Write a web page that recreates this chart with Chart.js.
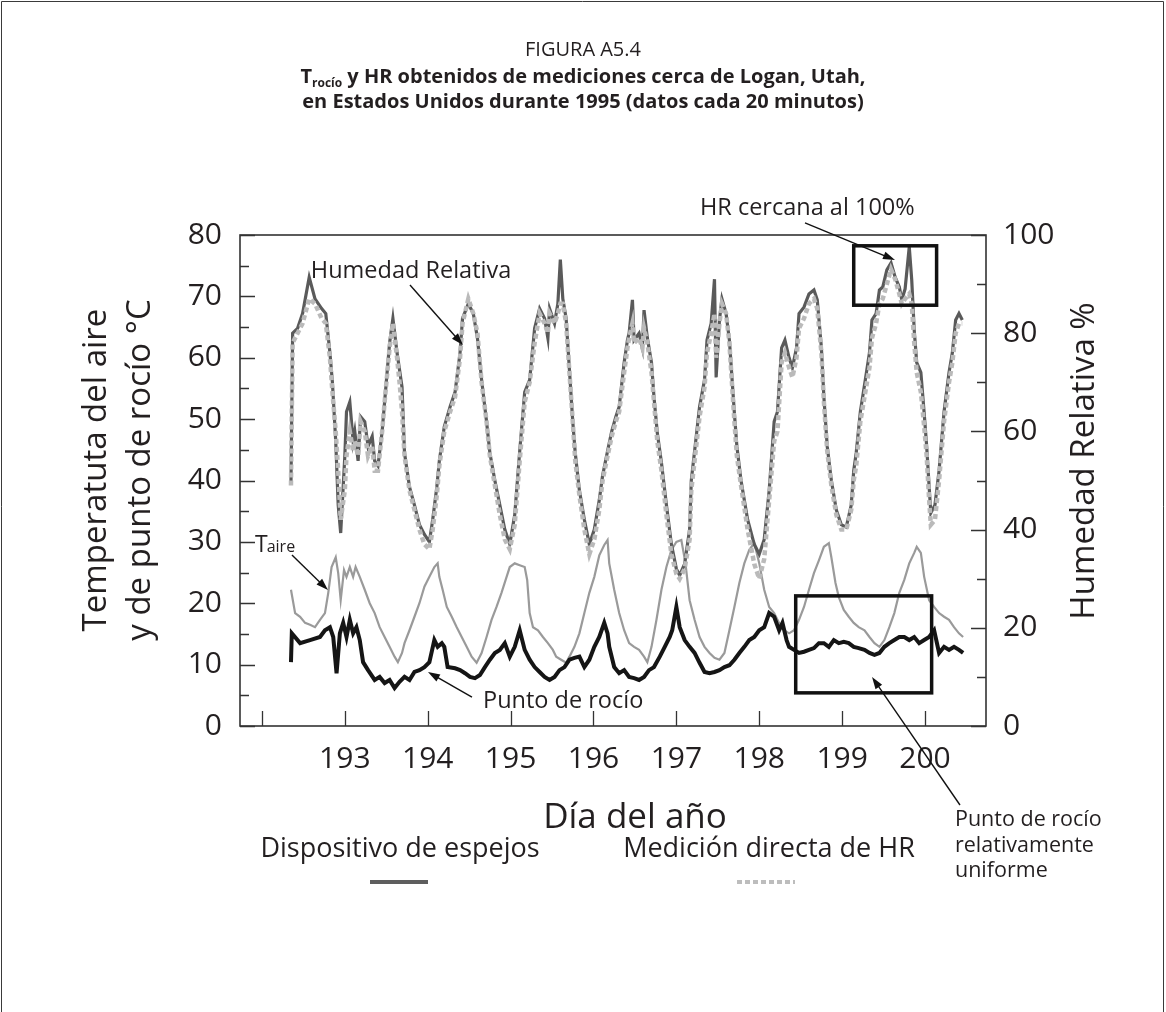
<!DOCTYPE html>
<html>
<head>
<meta charset="utf-8">
<script src="https://cdn.jsdelivr.net/npm/chart.js@4.4.0/dist/chart.umd.min.js"></script>
<style>
html,body{margin:0;padding:0;background:#fff;}
#wrap{position:relative;width:1166px;height:1012px;}
canvas{display:block;}
</style>
</head>
<body>
<div id="wrap"><canvas id="c" width="1166" height="1012"></canvas></div>
<script>
// ---------- DATA ----------
const xTickValues = [192, 193, 194, 195, 196, 197, 198, 199, 200];
const xTickLabels = ['', '193', '194', '195', '196', '197', '198', '199', '200'];
const leftTickValues = [0, 10, 20, 30, 40, 50, 60, 70, 80];
const rightTickValues = [0, 20, 40, 60, 80, 100];

// Relative humidity (%), right axis
const hrDays = [
  192.35,192.37,192.43,192.49,192.57,192.64,192.72,192.77,192.82,192.85,
  192.89,192.92,192.95,193.00,193.02,193.06,193.10,193.12,193.16,193.19,
  193.24,193.28,193.33,193.36,193.40,193.45,193.48,193.54,193.58,193.63,
  193.66,193.69,193.72,193.78,193.84,193.90,193.96,194.02,194.06,194.11,
  194.14,194.20,194.27,194.33,194.39,194.42,194.49,194.55,194.60,194.65,
  194.71,194.75,194.81,194.87,194.93,194.99,195.05,195.11,195.17,195.23,
  195.29,195.35,195.41,195.45,195.47,195.53,195.57,195.60,195.63,195.67,
  195.71,195.75,195.78,195.83,195.89,195.95,196.01,196.07,196.11,196.17,
  196.22,196.27,196.31,196.37,196.41,196.43,196.47,196.49,196.55,196.59,
  196.61,196.65,196.70,196.73,196.77,196.82,196.88,196.94,197.00,197.04,
  197.10,197.16,197.18,197.24,197.28,197.34,197.37,197.42,197.46,197.48,
  197.52,197.55,197.60,197.64,197.70,197.73,197.78,197.86,197.94,198.00,
  198.06,198.12,198.18,198.22,198.27,198.31,198.36,198.40,198.45,198.48,
  198.54,198.60,198.66,198.70,198.75,198.78,198.82,198.87,198.93,198.99,
  199.05,199.11,199.14,199.17,199.22,199.28,199.33,199.36,199.41,199.45,
  199.49,199.54,199.59,199.64,199.69,199.72,199.76,199.81,199.84,199.87,
  199.90,199.95,199.99,200.02,200.05,200.07,200.12,200.17,200.23,200.29,
  200.33,200.37,200.41,200.45
];
const hrMirror = [
  49.5,80,81,84,91.4,87,85,84,76,70,
  58,45,39.3,55,64,66,58,60,54,63,
  62,57,59,54,53,60,66,78,83,76,
  72.5,69,55.6,48.7,45,41,39,37.5,42,48.7,
  54,61,65,68,76,83,86,84,79,70.5,
  62,55.6,50,45,40,37,43,56,68,70.5,
  81,85,83,79,85,82,86,95,87,83,
  72.5,62,55.6,48,42,37,40,46,51,56,
  60,63,65,74,78.6,80,86.8,78.6,80,77,
  84.7,79,74,67,59.7,53.6,45,37,32,30.7,
  33,40,50,59,65,70.5,78.6,82,91,71,
  82.7,87,84,78.6,63.7,57,50,42,37,35,
  38,48,62,64,77,78.6,75,73,77,84,
  85.3,88,88.8,86.8,77,67,57,50,44,41,
  40.5,45,52,55.6,64,70.5,76,82.7,84,88.8,
  89.4,92.9,94.3,91.4,89.4,86.8,89,97.6,90.8,80.6,
  74,72,63.7,57,48.7,43.4,45,52,64,72,
  76,82.7,84,82.7
];
const hrDirect = [
  49,78,80,82,87,86,83,82,75,68,
  60,52,42,48,55,60,56,58,55,62,
  60,55,57,52,52,60,66,77,82,75,
  70,64,55,48,44,40,37,36,40,47,
  53,60,64,67,75,82,87,84,80,70,
  62,55,49,43,38,36,41,54,66,70,
  78,84,82,80,84,82,84,86,86,82,
  72,62,54,47,40,35,38,44,50,55,
  59,62,64,72,77,79,82,78,79,77,
  81,78,72,66,58,52,43,35,31,30,
  32,38,48,57,63,69,76,80,84,75,
  82,86,84,78,62,55,49,40,33,30,
  34,46,58,60,74,76,73,71,75,81,
  83,86,87,85,76,66,56,49,43,40,
  40,44,50,53,62,68,73,79,82,86,
  87,90,93,91,88,86,87,88,86,78,
  72,68,61,55,46,41,42,50,62,70,
  74,80,82,82
];

// Dew point (°C), left axis
const dewDays = [
  192.35,192.36,192.46,192.58,192.70,192.76,192.82,192.86,192.90,192.94,
  192.98,193.02,193.06,193.10,193.14,193.18,193.22,193.28,193.36,193.42,
  193.48,193.54,193.60,193.66,193.72,193.78,193.84,193.90,193.96,194.02,
  194.08,194.12,194.17,194.20,194.24,194.33,194.39,194.45,194.51,194.57,
  194.63,194.69,194.75,194.81,194.87,194.93,194.99,195.05,195.11,195.17,
  195.23,195.29,195.35,195.41,195.47,195.53,195.59,195.65,195.71,195.77,
  195.83,195.89,195.95,196.01,196.07,196.13,196.17,196.19,196.25,196.31,
  196.37,196.43,196.49,196.55,196.61,196.67,196.73,196.80,196.86,196.92,
  196.95,197.00,197.04,197.10,197.16,197.22,197.28,197.34,197.40,197.46,
  197.52,197.58,197.64,197.70,197.76,197.82,197.88,197.94,198.00,198.06,
  198.12,198.18,198.24,198.28,198.33,198.36,198.42,198.48,198.54,198.60,
  198.66,198.72,198.78,198.84,198.90,198.96,199.02,199.08,199.14,199.20,
  199.27,199.33,199.39,199.45,199.51,199.57,199.63,199.69,199.75,199.81,
  199.87,199.93,199.99,200.05,200.11,200.17,200.23,200.29,200.35,200.41,
  200.46
];
const dewPoint = [
  10.4,15.1,13.5,14.0,14.5,15.6,16.1,14.5,8.6,15.1,
  16.8,14.5,17.3,15.1,16.1,14.0,10.4,9.1,7.5,8.0,
  7.0,7.5,6.2,7.2,8.0,7.5,8.8,9.1,9.6,10.4,
  14.0,12.9,13.5,12.9,9.6,9.4,9.1,8.6,8.0,7.8,
  8.3,9.6,10.8,11.9,12.4,13.5,11.3,12.9,15.6,12.4,
  10.8,9.6,8.8,8.0,7.5,8.0,9.1,9.6,10.8,11.1,
  11.3,9.6,10.8,12.9,14.5,16.8,15.1,12.9,9.6,8.6,
  9.1,8.0,7.8,7.5,8.0,9.1,9.6,11.3,12.9,14.5,
  15.6,19.4,16.1,14.0,12.9,11.9,10.3,8.8,8.6,8.8,
  9.1,9.6,9.9,10.8,11.9,12.9,14.0,14.5,15.6,16.1,
  18.4,17.8,15.6,16.8,14.0,12.9,12.4,11.9,12.1,12.4,
  12.7,13.5,13.5,12.9,14.0,13.5,13.7,13.5,12.9,12.7,
  12.4,11.9,11.6,11.9,12.9,13.5,14.0,14.5,14.5,14.0,
  14.5,13.5,14.0,14.5,15.6,11.9,12.9,12.4,12.9,12.4,
  11.9
];

// Air temperature (°C), left axis
const tairDays = [
  192.35,192.40,192.46,192.52,192.58,192.64,192.70,192.76,192.80,192.84,
  192.89,192.92,192.95,192.99,193.02,193.06,193.10,193.13,193.18,193.24,
  193.30,193.36,193.42,193.48,193.54,193.60,193.64,193.69,193.72,193.78,
  193.84,193.90,193.96,194.02,194.08,194.12,194.14,194.18,194.23,194.29,
  194.35,194.41,194.47,194.53,194.59,194.65,194.71,194.77,194.83,194.89,
  194.94,194.99,195.05,195.11,195.17,195.20,195.23,195.27,195.33,195.39,
  195.45,195.51,195.55,195.61,195.67,195.71,195.77,195.83,195.89,195.95,
  196.01,196.07,196.13,196.17,196.19,196.25,196.31,196.37,196.43,196.49,
  196.55,196.61,196.65,196.70,196.76,196.82,196.88,196.94,197.00,197.06,
  197.11,197.16,197.22,197.28,197.34,197.40,197.46,197.52,197.58,197.64,
  197.70,197.76,197.82,197.88,197.94,198.00,198.06,198.12,198.18,198.24,
  198.30,198.36,198.42,198.48,198.54,198.60,198.66,198.72,198.78,198.84,
  198.87,198.92,198.96,199.02,199.08,199.14,199.20,199.27,199.33,199.39,
  199.45,199.51,199.57,199.63,199.69,199.75,199.81,199.87,199.90,199.95,
  199.99,200.05,200.11,200.17,200.23,200.29,200.35,200.41,200.46
];
const tair = [
  22.2,18.4,17.8,16.8,16.5,16.1,17.3,18.4,21.7,25.9,
  27.5,24.9,20.5,25.4,24.3,25.9,24.3,25.9,24.3,22.2,
  20.0,18.4,16.1,14.5,12.9,11.3,10.4,11.9,13.5,15.6,
  17.8,20.0,22.7,24.3,25.9,26.5,24.3,22.2,19.4,17.8,
  16.1,14.5,12.9,11.3,10.3,11.9,14.5,17.3,19.4,21.7,
  23.8,25.9,26.5,26.2,25.9,23.8,18.4,16.1,15.6,14.5,
  13.5,12.4,11.3,10.8,10.3,11.3,12.9,15.1,18.4,21.7,
  24.3,27.8,29.5,30.3,26.5,22.2,18.4,15.6,13.5,12.9,
  12.4,11.3,10.4,12.9,17.3,22.2,25.9,28.7,30.0,30.3,
  26.5,20.5,17.3,14.5,12.9,11.9,11.1,10.8,11.9,15.6,
  19.4,23.3,26.5,28.7,29.8,26.5,22.2,19.4,18.4,16.8,
  15.6,15.1,15.6,17.3,19.4,22.2,24.9,27.0,29.2,29.8,
  27.5,23.3,21.0,18.9,17.8,16.8,16.1,15.6,14.5,13.5,
  12.9,14.0,16.1,18.4,21.7,23.8,26.5,28.2,29.2,28.2,
  24.3,20.5,19.4,18.4,17.8,17.3,16.1,15.1,14.5
];

// ---------- STYLE ----------
const FONT = "'Open Sans', 'Noto Sans', 'DejaVu Sans', sans-serif";
const INK = '#231f20';
const AXIS = '#333333';

function pts(xs, ys) { return xs.map((d, i) => ({ x: d, y: ys[i] })); }

function arrow(ctx, x1, y1, x2, y2) {
  const a = Math.atan2(y2 - y1, x2 - x1);
  const L = 12, W = 4;
  ctx.beginPath();
  ctx.moveTo(x1, y1);
  ctx.lineTo(x2 - Math.cos(a) * L * 0.7, y2 - Math.sin(a) * L * 0.7);
  ctx.stroke();
  ctx.beginPath();
  ctx.moveTo(x2, y2);
  ctx.lineTo(x2 - L * Math.cos(a) + W * Math.sin(a), y2 - L * Math.sin(a) - W * Math.cos(a));
  ctx.lineTo(x2 - L * Math.cos(a) - W * Math.sin(a), y2 - L * Math.sin(a) + W * Math.cos(a));
  ctx.closePath();
  ctx.fill();
}

const decor = {
  id: 'decor',
  beforeDraw(chart) {
    const ctx = chart.ctx;
    ctx.save();
    ctx.fillStyle = '#fff';
    ctx.fillRect(0, 0, chart.width, chart.height);
    ctx.strokeStyle = '#3a3a3a';
    ctx.lineWidth = 1;
    ctx.beginPath();
    ctx.moveTo(1.5, chart.height); ctx.lineTo(1.5, 1.5); ctx.lineTo(1163.5, 1.5); ctx.lineTo(1163.5, chart.height);
    ctx.stroke();
    ctx.restore();
  },
  afterDraw(chart) {
    const ctx = chart.ctx;
    const ca = chart.chartArea;
    const xs = chart.scales.x, yl = chart.scales.y, yr = chart.scales.y2;
    const P = (d, t) => [xs.getPixelForValue(d), yl.getPixelForValue(t)];
    ctx.save();

    // plot frame
    ctx.strokeStyle = AXIS;
    ctx.lineWidth = 1.6;
    ctx.strokeRect(ca.left, ca.top, ca.right - ca.left, ca.bottom - ca.top);

    // inward ticks
    ctx.lineWidth = 1.3;
    ctx.beginPath();
    for (let v = 0; v <= 80; v += 5) {
      const y = Math.round(yl.getPixelForValue(v)) + 0.5;
      const len = v % 10 === 0 ? 15 : 9;
      ctx.moveTo(ca.left, y); ctx.lineTo(ca.left + len, y);
    }
    for (let v = 0; v <= 100; v += 10) {
      const y = Math.round(yr.getPixelForValue(v)) + 0.5;
      const len = v % 20 === 0 ? 15 : 9;
      ctx.moveTo(ca.right, y); ctx.lineTo(ca.right - len, y);
    }
    xTickValues.forEach(v => {
      const x = Math.round(xs.getPixelForValue(v)) + 0.5;
      ctx.moveTo(x, ca.bottom); ctx.lineTo(x, ca.bottom - 15);
    });
    ctx.stroke();

    ctx.fillStyle = INK;
    ctx.textBaseline = 'alphabetic';

    // title
    ctx.textAlign = 'center';
    ctx.font = '20px ' + FONT;
    ctx.fillText('FIGURA A5.4', 583, 56);
    const t1 = 'T', t2 = 'rocío', t3 = ' y HR obtenidos de mediciones cerca de Logan, Utah,';
    ctx.font = 'bold 20px ' + FONT; const w1 = ctx.measureText(t1).width, w3 = ctx.measureText(t3).width;
    ctx.font = 'bold 12px ' + FONT; const w2 = ctx.measureText(t2).width;
    let sx = 583 - (w1 + w2 + w3) / 2;
    ctx.textAlign = 'left';
    ctx.font = 'bold 20px ' + FONT; ctx.fillText(t1, sx, 83);
    ctx.font = 'bold 12px ' + FONT; ctx.fillText(t2, sx + w1, 87);
    ctx.font = 'bold 20px ' + FONT; ctx.fillText(t3, sx + w1 + w2, 83);
    ctx.textAlign = 'center';
    ctx.fillText('en Estados Unidos durante 1995 (datos cada 20 minutos)', 583, 108);

    // axis titles
    ctx.font = '33px ' + FONT;
    ctx.save(); ctx.translate(106, 470); ctx.rotate(-Math.PI / 2);
    ctx.fillText('Temperatuta del aire', 0, 0); ctx.restore();
    ctx.save(); ctx.translate(150, 470); ctx.rotate(-Math.PI / 2);
    ctx.fillText('y de punto de rocío °C', 0, 0); ctx.restore();
    ctx.save(); ctx.translate(1094, 461); ctx.rotate(-Math.PI / 2);
    ctx.fillText('Humedad Relativa %', 0, 0); ctx.restore();
    ctx.font = '35px ' + FONT;
    ctx.fillText('Día del año', 635, 828);

    // annotation boxes
    ctx.strokeStyle = '#111';
    ctx.lineWidth = 3.5;
    const b1a = [xs.getPixelForValue(199.14), yr.getPixelForValue(97.8)];
    const b1b = [xs.getPixelForValue(200.14), yr.getPixelForValue(85.7)];
    ctx.strokeRect(b1a[0], b1a[1], b1b[0] - b1a[0], b1b[1] - b1a[1]);
    const b2a = P(198.44, 21.2), b2b = P(200.08, 5.4);
    ctx.strokeRect(b2a[0], b2a[1], b2b[0] - b2a[0], b2b[1] - b2a[1]);

    // arrows
    ctx.strokeStyle = '#111'; ctx.fillStyle = '#111'; ctx.lineWidth = 1.4;
    let a, b;
    a = P(193.786, 71.85); b = P(194.425, 62.08); arrow(ctx, a[0], a[1], b[0], b[1]);
    a = P(198.552, 81.96); b = P(199.638, 75.93); arrow(ctx, a[0], a[1], b[0], b[1]);
    a = P(192.362, 27.86); b = P(192.796, 22.16); arrow(ctx, a[0], a[1], b[0], b[1]);
    a = P(194.534, 4.72);  b = P(194.003, 8.80);  arrow(ctx, a[0], a[1], b[0], b[1]);
    a = P(200.422, -12.87); b = P(199.361, 7.98); arrow(ctx, a[0], a[1], b[0], b[1]);

    // annotation texts
    ctx.fillStyle = INK;
    ctx.textAlign = 'left';
    ctx.font = '23.5px ' + FONT;
    let p = P(192.59, 73.0); ctx.fillText('Humedad Relativa', p[0], p[1]);
    p = P(197.285, 83.26); ctx.fillText('HR cercana al 100%', p[0], p[1]);
    p = P(194.667, 2.93); ctx.fillText('Punto de rocío', p[0], p[1]);
    p = P(191.916, 28.35);
    ctx.font = '23px ' + FONT; ctx.fillText('T', p[0], p[1]);
    const tw = ctx.measureText('T').width;
    ctx.font = '16px ' + FONT; ctx.fillText('aire', p[0] + tw - 1, p[1]);
    ctx.font = '21.5px ' + FONT;
    ctx.fillText('Punto de rocío', 955, 826);
    ctx.fillText('relativamente', 955, 852);
    ctx.fillText('uniforme', 955, 877);

    // legend
    ctx.textAlign = 'center';
    ctx.font = '27px ' + FONT;
    ctx.fillText('Dispositivo de espejos', 400, 857);
    ctx.fillText('Medición directa de HR', 769, 857);
    ctx.lineWidth = 4;
    ctx.strokeStyle = '#5e5e5e';
    ctx.beginPath(); ctx.moveTo(370, 882); ctx.lineTo(428, 882); ctx.stroke();
    ctx.strokeStyle = '#bdbdbd';
    ctx.setLineDash([5, 3]);
    ctx.beginPath(); ctx.moveTo(737, 882); ctx.lineTo(795, 882); ctx.stroke();
    ctx.setLineDash([]);

    ctx.restore();
  }
};

new Chart(document.getElementById('c'), {
  type: 'line',
  data: {
    datasets: [
      { label: 'Medición directa de HR', data: pts(hrDays, hrDirect), yAxisID: 'y2',
        borderColor: '#bababa', borderWidth: 4.5, borderDash: [5, 3], pointRadius: 0, tension: 0 },
      { label: 'Dispositivo de espejos', data: pts(hrDays, hrMirror), yAxisID: 'y2',
        borderColor: '#5a5a5a', borderWidth: 3.2, pointRadius: 0, tension: 0 },
      { label: 'Punto de rocío', data: pts(dewDays, dewPoint), yAxisID: 'y',
        borderColor: '#151515', borderWidth: 4, pointRadius: 0, tension: 0 },
      { label: 'Taire', data: pts(tairDays, tair), yAxisID: 'y',
        borderColor: '#9a9a9a', borderWidth: 2.2, pointRadius: 0, tension: 0 }
    ]
  },
  options: {
    responsive: false,
    devicePixelRatio: 1,
    animation: false,
    events: [],
    layout: { padding: { top: 235, left: 0, right: 0, bottom: 0 } },
    plugins: { legend: { display: false }, tooltip: { enabled: false }, title: { display: false } },
    scales: {
      x: {
        type: 'linear', position: 'bottom', min: 191.735, max: 200.736,
        grid: { display: false, drawTicks: false }, border: { display: false },
        afterBuildTicks: s => { s.ticks = xTickValues.map(v => ({ value: v })); },
        afterFit: s => { s.height = 1012 - 726; },
        ticks: {
          autoSkip: false, maxRotation: 0, padding: 15, color: INK,
          font: { family: FONT, size: 30 },
          callback: v => xTickLabels[xTickValues.indexOf(v)]
        }
      },
      y: {
        type: 'linear', position: 'left', min: 0, max: 80,
        grid: { display: false, drawTicks: false }, border: { display: false },
        afterBuildTicks: s => { s.ticks = leftTickValues.map(v => ({ value: v })); },
        afterFit: s => { s.width = 240; },
        ticks: { padding: 18, color: INK, font: { family: FONT, size: 30 } }
      },
      y2: {
        type: 'linear', position: 'right', min: 0, max: 100,
        grid: { display: false, drawTicks: false }, border: { display: false },
        afterBuildTicks: s => { s.ticks = rightTickValues.map(v => ({ value: v })); },
        afterFit: s => { s.width = 1166 - 986; },
        ticks: { padding: 17, color: INK, font: { family: FONT, size: 30 } }
      }
    }
  },
  plugins: [decor]
});
</script>
</body>
</html>
